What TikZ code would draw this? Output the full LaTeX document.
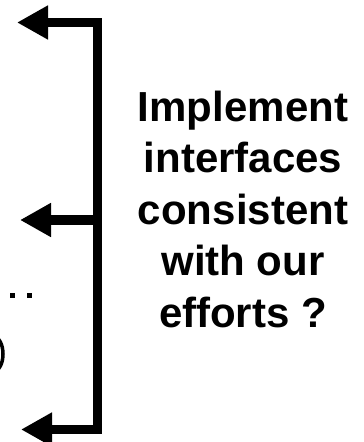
\documentclass[tikz,border=0pt]{standalone}
\usepackage{fontspec}
\setmainfont{Liberation Sans}
\usetikzlibrary{arrows.meta}
\tikzset{
  bracket/.style={line width=9.5pt, line join=miter, line cap=butt,
    {Triangle[length=31pt,width=32pt]}-{Triangle[length=31pt,width=32pt]}},
  branch/.style={line width=9.5pt, line cap=butt, -{Triangle[length=31pt,width=32pt]}},
  label/.style={font=\bfseries\fontsize{42}{51.5}\selectfont, align=center, inner sep=0pt},
  dot/.style={fill=black}
}
\begin{document}
\begin{tikzpicture}[x=1pt,y=-1pt]
  \useasboundingbox (0,0) rectangle (364,442);
  \clip (0,0) rectangle (364,442);
  % bracket
  \coordinate (tipTop) at (17,22.5);
  \coordinate (cornerTop) at (97.5,22.5);
  \coordinate (cornerBot) at (97.5,429.5);
  \coordinate (tipBot) at (21,429.5);
  \coordinate (mid) at (97.5,220);
  \coordinate (tipMid) at (20,220);
  \draw[bracket] (tipTop) -- (cornerTop) -- (cornerBot) -- (tipBot);
  \draw[branch] (mid) -- (tipMid);
  % label
  \node[label] (question) at (243,209) {Implement\\interfaces\\consistent\\with our\\efforts ?};
  % clipped fragments at the left edge
  \fill[dot] (10,293) rectangle (15,298);
  \fill[dot] (27,293) rectangle (32,298);
  \draw[line width=3.5pt] (-6,354) ellipse [x radius=9, y radius=17];
\end{tikzpicture}
\end{document}
